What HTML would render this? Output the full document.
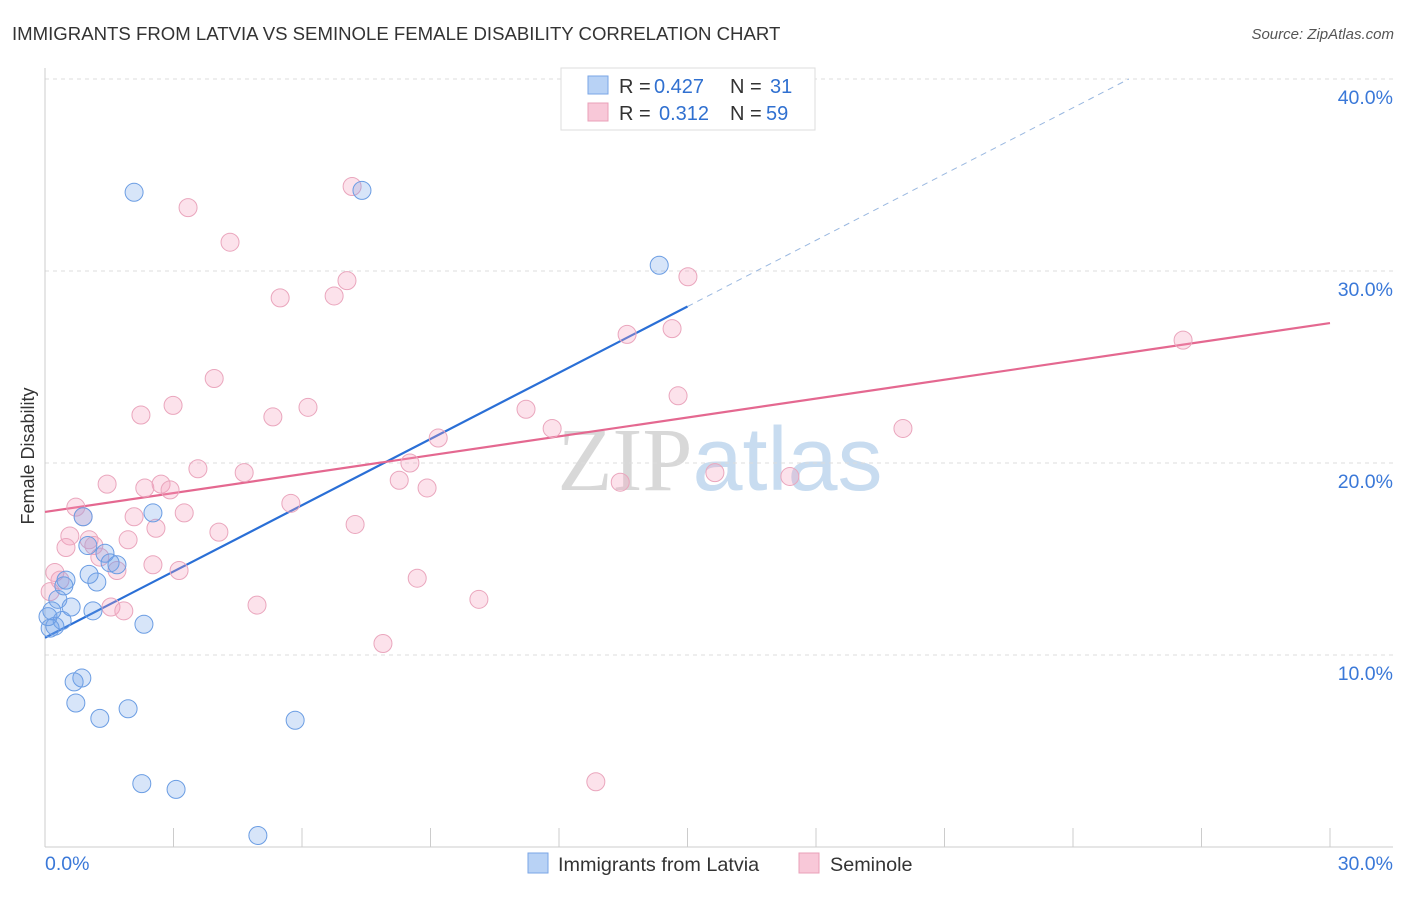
<!DOCTYPE html>
<html><head><meta charset="utf-8"><style>
body{margin:0;background:#fff;font-family:"Liberation Sans",sans-serif;}
svg text{font-family:"Liberation Sans",sans-serif;}
</style></head><body>
<svg id="chart" width="1406" height="892" viewBox="0 0 1406 892" xmlns="http://www.w3.org/2000/svg">
<text x="12" y="40" font-size="18.6" fill="#333">IMMIGRANTS FROM LATVIA VS SEMINOLE FEMALE DISABILITY CORRELATION CHART</text>
<text x="1394" y="39" font-size="15" fill="#555" text-anchor="end" font-style="italic">Source: ZipAtlas.com</text>
<text x="720" y="490" font-size="90" text-anchor="middle" fill="#ddd"><tspan font-family="Liberation Serif" fill="#d8d8d8">ZIP</tspan><tspan fill="#c8dcf0">atlas</tspan></text>
<text transform="translate(34,456) rotate(-90)" font-size="18" fill="#333" text-anchor="middle">Female Disability</text>
<g id="grid"></g><g id="axes"></g><g id="trend"></g><g id="pts"></g>
<g>
<rect x="561" y="68" width="254" height="62" fill="#fff" stroke="#ddd"/>
<rect x="588" y="76" width="20" height="18" fill="#b8d2f5" stroke="#7aa6e6"/>
<rect x="588" y="103" width="20" height="18" fill="#f8c8d8" stroke="#eaa0b8"/>
<text x="619" y="93" font-size="20" fill="#333">R =</text>
<text x="654" y="93" font-size="20" fill="#3070d0">0.427</text>
<text x="730" y="93" font-size="20" fill="#333">N =</text>
<text x="770" y="93" font-size="20" fill="#3070d0">31</text>
<text x="619" y="120" font-size="20" fill="#333">R =</text>
<text x="659" y="120" font-size="20" fill="#3070d0">0.312</text>
<text x="730" y="120" font-size="20" fill="#333">N =</text>
<text x="766" y="120" font-size="20" fill="#3070d0">59</text>
</g>
<g>
<rect x="528" y="853" width="20" height="20" fill="#b8d2f5" stroke="#7aa6e6"/>
<text x="558" y="871" font-size="19.8" fill="#333">Immigrants from Latvia</text>
<rect x="799" y="853" width="20" height="20" fill="#f8c8d8" stroke="#eaa0b8"/>
<text x="830" y="871" font-size="19.8" fill="#333">Seminole</text>
</g>
</svg>
<script>
const yTicks=[10,20,30,40];
const yTickLabels=["10.0%","20.0%","30.0%","40.0%"];
const xTicks=[0,3,6,9,12,15,18,21,24,27,30];
const latviaX=[2.08,7.40,14.34,2.52,0.89,1.00,1.40,1.52,1.68,0.49,1.21,1.03,0.30,0.61,1.12,0.40,0.12,0.23,2.31,0.86,0.68,0.72,1.28,1.94,5.84,2.26,3.06,4.97,0.07,0.16,0.44];
const latviaY=[34.1,34.2,30.3,17.4,17.2,15.7,15.3,14.8,14.7,13.9,13.8,14.2,12.9,12.5,12.3,11.8,11.4,11.5,11.6,8.8,8.6,7.5,6.7,7.2,6.6,3.3,3.0,0.6,12.0,12.3,13.6];
const seminoleX=[7.17,3.34,4.32,5.49,6.75,7.05,15.01,13.59,14.64,26.57,3.95,2.24,2.99,5.32,6.14,11.23,9.18,11.84,20.03,14.78,3.57,4.65,8.52,8.27,8.92,13.43,15.64,17.39,1.45,2.33,2.71,2.92,0.72,0.89,2.08,3.25,5.74,7.24,2.59,4.06,0.58,1.94,1.03,0.49,1.14,1.28,1.68,2.52,3.13,0.23,0.35,1.54,1.84,4.95,8.69,10.13,7.89,12.86,0.12];
const seminoleY=[34.4,33.3,31.5,28.6,28.7,29.5,29.7,26.7,27.0,26.4,24.4,22.5,23.0,22.4,22.9,22.8,21.3,21.8,21.8,23.5,19.7,19.5,20.0,19.1,18.7,19.0,19.5,19.3,18.9,18.7,18.9,18.6,17.7,17.2,17.2,17.4,17.9,16.8,16.6,16.4,16.2,16.0,16.0,15.6,15.7,15.1,14.4,14.7,14.4,14.3,13.9,12.5,12.3,12.6,14.0,12.9,10.6,3.4,13.3];
const latviaTrend=[10.9,1.15];
const seminoleTrend=[17.45,0.328];
const NS="http://www.w3.org/2000/svg";
const sx=v=>45+v*42.833, sy=v=>847-v*19.2;
function mk(p,tag,a){const e=document.createElementNS(NS,tag);for(const k in a)e.setAttribute(k,a[k]);document.getElementById(p).appendChild(e);return e;}
yTicks.forEach((t,i)=>{
 const l=mk('grid','line',{x1:45,x2:1393,y1:sy(t),y2:sy(t),stroke:'#ddd','stroke-dasharray':'4,4'});
 
 
 const tx=mk('grid','text',{x:1393,y:sy(t)+25,'font-size':19.5,fill:'#3a78d8','text-anchor':'end'});tx.textContent=yTickLabels[i];
 
 
});
mk('axes','line',{x1:45,x2:45,y1:68,y2:847,stroke:'#ccc'});
mk('axes','line',{x1:45,x2:1393,y1:847,y2:847,stroke:'#ccc'});
xTicks.forEach(t=>{const l=mk('axes','line',{x1:sx(t),x2:sx(t),y1:828,y2:847,stroke:'#ccc'});
 
 });
let a=mk('axes','text',{x:45,y:870,'font-size':19.5,fill:'#3a78d8'});a.textContent='0.0%';


a=mk('axes','text',{x:1393,y:870,'font-size':19.5,fill:'#3a78d8','text-anchor':'end'});a.textContent='30.0%';


function pts(xs,ys,fill,stroke,name){xs.forEach((x,i)=>{const c=mk('pts','circle',{cx:sx(x),cy:sy(ys[i]),r:9,fill:fill,stroke:stroke,'stroke-width':1});
 
 });}
pts(seminoleX,seminoleY,'rgba(244,160,190,0.3)','#eaa6bd','seminole-point');
pts(latviaX,latviaY,'rgba(110,160,235,0.28)','#6b9de3','latvia-point');
let t=mk('trend','line',{x1:sx(0),y1:sy(latviaTrend[0]),x2:sx(15),y2:sy(latviaTrend[0]+latviaTrend[1]*15),stroke:'#2a6fd6','stroke-width':2.2});


const xe=(40-latviaTrend[0])/latviaTrend[1];
t=mk('trend','line',{x1:sx(15),y1:sy(latviaTrend[0]+latviaTrend[1]*15),x2:sx(xe),y2:sy(40),stroke:'#9ab8e0','stroke-width':1,'stroke-dasharray':'6,5'});


t=mk('trend','line',{x1:sx(0),y1:sy(seminoleTrend[0]),x2:sx(30),y2:sy(seminoleTrend[0]+seminoleTrend[1]*30),stroke:'#e46890','stroke-width':2.2});


</script>
</body></html>
